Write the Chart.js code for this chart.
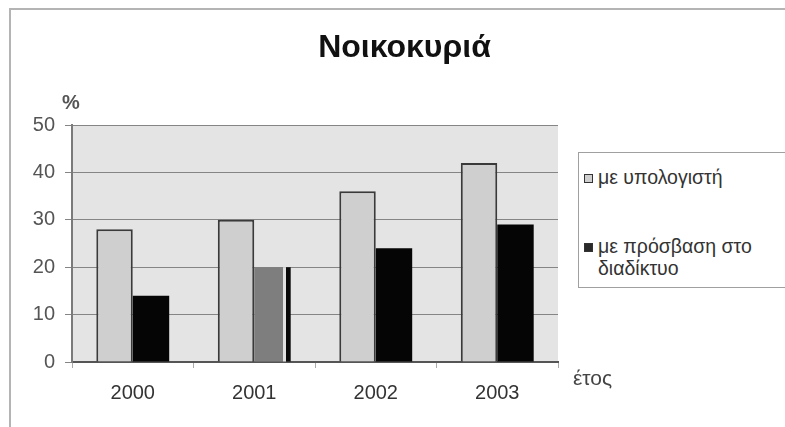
<!DOCTYPE html>
<html lang="el">
<head>
<meta charset="utf-8">
<title>Νοικοκυριά</title>
<script src="https://cdn.jsdelivr.net/npm/chart.js@4/dist/chart.umd.min.js"></script>
<style>
  html, body { margin: 0; padding: 0; background: #fff; }
  body { width: 785px; height: 427px; position: relative; overflow: hidden; font-family: "Liberation Sans", Arial, sans-serif; }
  #frame { position: absolute; left: 9px; top: 8px; width: 800px; height: 440px; border-top: 2px solid #b4b4b4; border-left: 2px solid #b4b4b4; }
  #wrap { position: absolute; left: 0; top: 0; width: 785px; height: 427px; }
  #legend { position: absolute; left: 578px; top: 152px; width: 240px; height: 134px; border: 1.5px solid #a0a0a0; background: #fff; }
  .item { position: absolute; left: 5px; font-size: 19.5px; line-height: 22px; color: #333; }
  .item .box { position: absolute; left: 0; top: 8px; width: 7px; height: 7px; border: 1px solid #333; }
  .item .txt { position: absolute; left: 14px; top: 0; white-space: nowrap; }
</style>
</head>
<body>
<div id="frame"></div>
<div id="wrap"><canvas id="chart" width="785" height="427"></canvas></div>
<div id="legend"></div>
<script>
// Households: share with a computer and with internet access, by year (%)
const years = ['2000', '2001', '2002', '2003'];
const withComputer = [28, 30, 36, 42];
const withInternet = [14, 20, 24, 29];
const seriesNames = ['με υπολογιστή', ['με πρόσβαση στο', 'διαδίκτυο']];
const yMin = 0, yMax = 50, yStep = 10;

const computerFill = '#cfcfcf';
const internetFill = ['#050505', '#7e7e7e', '#050505', '#050505'];

// Faded print: the 2001 internet bar is grey with a thin dark strip at its right edge
const stripPlugin = {
  id: 'strip',
  beforeDatasetsDraw(chart) {
    const el = chart.getDatasetMeta(1).data[1];
    if (!el) return;
    const { x, width } = el.getProps(['x', 'width'], true);
    const x0 = x - width / 2, x1 = x + width / 2;
    const g = chart.ctx.createLinearGradient(x0, 0, x1, 0);
    g.addColorStop(0, '#7e7e7e');
    g.addColorStop(0.78, '#7e7e7e');
    g.addColorStop(0.78, '#e2e2e2');
    g.addColorStop(0.88, '#e2e2e2');
    g.addColorStop(0.88, '#0a0a0a');
    g.addColorStop(1, '#0a0a0a');
    el.options.backgroundColor = g;
    el.options.borderColor = g;
  }
};

// Plot background plus the free-standing texts (title, unit and axis name)
const decorPlugin = {
  id: 'decor',
  beforeDraw(chart) {
    const { ctx, chartArea: a } = chart;
    ctx.save();
    ctx.fillStyle = '#e4e4e4';
    ctx.fillRect(a.left, a.top, a.right - a.left, a.bottom - a.top);
    ctx.restore();
  },
  afterDraw(chart) {
    const { ctx, chartArea: a } = chart;
    ctx.save();
    ctx.textBaseline = 'alphabetic';
    ctx.textAlign = 'center';
    ctx.fillStyle = '#111';
    ctx.font = 'bold 32px "Liberation Sans", Arial, sans-serif';
    ctx.fillText('Νοικοκυριά', chart.width / 2 + 12, 57);
    ctx.fillStyle = '#555';
    ctx.font = 'bold 20px "Liberation Sans", Arial, sans-serif';
    ctx.fillText('%', a.left - 1, a.top - 16);
    ctx.textAlign = 'left';
    ctx.fillStyle = '#444';
    ctx.font = '21px "Liberation Sans", Arial, sans-serif';
    ctx.fillText('έτος', a.right + 15, a.bottom + 23);
    ctx.restore();
  }
};

const chart = new Chart(document.getElementById('chart'), {
  type: 'bar',
  data: {
    labels: years,
    datasets: [
      {
        label: 'με υπολογιστή',
        data: withComputer,
        backgroundColor: computerFill,
        borderColor: '#3a3a3a',
        borderWidth: 2,
        borderSkipped: 'start'
      },
      {
        label: 'με πρόσβαση στο διαδίκτυο',
        data: withInternet,
        backgroundColor: internetFill,
        borderColor: internetFill,
        borderWidth: 0
      }
    ]
  },
  options: {
    responsive: false,
    animation: false,
    devicePixelRatio: 1,
    layout: { padding: { left: 10, top: 125, right: 227, bottom: 15 } },
    plugins: { legend: { display: false }, title: { display: false }, tooltip: { enabled: false } },
    datasets: { bar: { categoryPercentage: 0.6, barPercentage: 1.0 } },
    scales: {
      x: {
        offset: true,
        grid: { display: true, drawOnChartArea: false, drawTicks: true, tickLength: 6, color: '#aaa', offset: true },
        border: { display: true, color: '#555', width: 2 },
        ticks: { color: '#333', padding: 13, font: { family: '"Liberation Sans", Arial, sans-serif', size: 20 } },
        afterFit(s) { s.height = 50; }
      },
      y: {
        min: yMin, max: yMax,
        grid: { color: '#858585', lineWidth: 1, drawTicks: true, tickLength: 7 },
        border: { display: true, color: '#7a7a7a', width: 2 },
        ticks: { stepSize: yStep, color: '#555', padding: 10, font: { family: '"Liberation Sans", Arial, sans-serif', size: 20 } },
        afterFit(s) { s.width = 62; }
      }
    }
  },
  plugins: [decorPlugin, stripPlugin]
});

// Legend box built from the dataset colours
const legend = document.getElementById('legend');
const markers = [computerFill, '#2a2a2a'];
const tops = [13, 82];
seriesNames.forEach((name, i) => {
  const lines = Array.isArray(name) ? name : [name];
  const item = document.createElement('div');
  item.className = 'item';
  item.style.top = tops[i] + 'px';
  const box = document.createElement('span');
  box.className = 'box';
  box.style.background = markers[i];
  item.appendChild(box);
  const txt = document.createElement('span');
  txt.className = 'txt';
  txt.innerHTML = lines.join('<br>');
  item.appendChild(txt);
  legend.appendChild(item);
});
</script>
</body>
</html>
